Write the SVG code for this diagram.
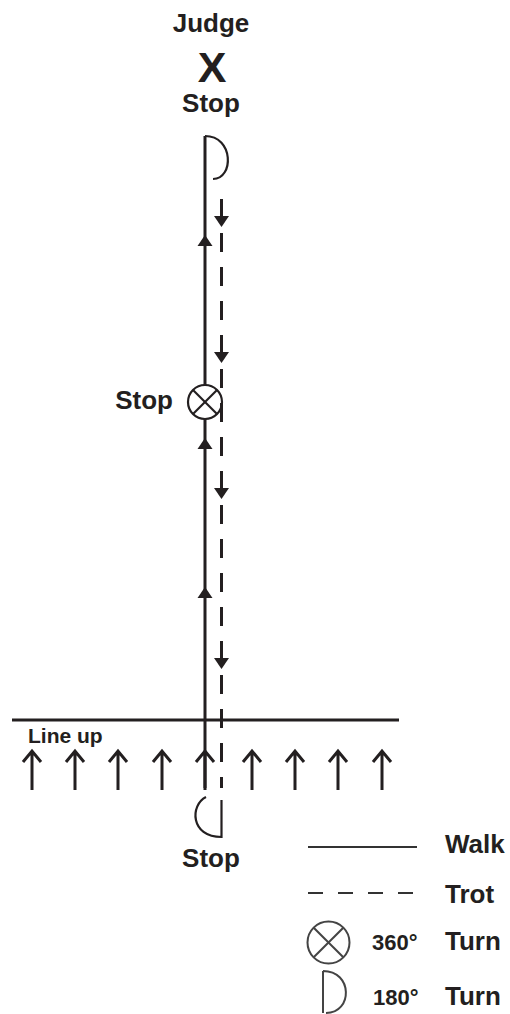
<svg xmlns="http://www.w3.org/2000/svg" width="510" height="1014" viewBox="0 0 510 1014">
<style>
  .t{font-family:"Liberation Sans",Arial,sans-serif;font-weight:bold;fill:#231f20}
  .s{stroke:#231f20;fill:none}
  .main{stroke-width:3}
  .thin{stroke-width:2.2}
  .dash{stroke-width:3;stroke-dasharray:19 15}
  .head{fill:#231f20;stroke:none}
</style>
<rect width="510" height="1014" fill="#fff"/>
<g id="connectors">
  <line class="s main" x1="205" y1="136" x2="205" y2="385"/>
  <line class="s main" x1="205" y1="419" x2="205" y2="788"/>
  <line class="s dash" x1="221.5" y1="199" x2="221.5" y2="788"/>
  <polygon class="head" points="205,235 197.5,246 212.5,246"/>
  <polygon class="head" points="205,438 197.5,449 212.5,449"/>
  <polygon class="head" points="205,587 197.5,598 212.5,598"/>
  <polygon class="head" points="221.5,227 214,216 229,216"/>
  <polygon class="head" points="221.5,363 214,352 229,352"/>
  <polygon class="head" points="221.5,499 214,488 229,488"/>
  <polygon class="head" points="221.5,669 214,658 229,658"/>
</g>
<g id="judge">
  <text class="t" x="211" y="32" font-size="26" text-anchor="middle">Judge</text>
  <text class="t" x="212" y="82" font-size="43" text-anchor="middle">X</text>
  <text class="t" x="211" y="112" font-size="26" text-anchor="middle">Stop</text>
</g>
<g id="top-turn">
  <path class="s thin" d="M205,136 C234,136 234,179 213,179"/>
</g>
<g id="mid-stop">
  <circle class="s thin" cx="205" cy="402" r="17" fill="#fff"/>
  <line class="s thin" x1="193" y1="390" x2="217" y2="414"/>
  <line class="s thin" x1="217" y1="390" x2="193" y2="414"/>
  <text class="t" x="173" y="409" font-size="26" text-anchor="end">Stop</text>
</g>
<g id="lineup">
  <line class="s main" x1="12" y1="720" x2="399" y2="720"/>
  <text class="t" x="28" y="743" font-size="21">Line up</text>
  <g class="s main">
    <path d="M32,790 V751 M23,762 L32,751 L41,762"/>
    <path d="M75,790 V751 M66,762 L75,751 L84,762"/>
    <path d="M118,790 V751 M109,762 L118,751 L127,762"/>
    <path d="M162,790 V751 M153,762 L162,751 L171,762"/>
    <path d="M205,790 V751 M196,762 L205,751 L214,762"/>
    <path d="M252,790 V751 M243,762 L252,751 L261,762"/>
    <path d="M295,790 V751 M286,762 L295,751 L304,762"/>
    <path d="M338,790 V751 M329,762 L338,751 L347,762"/>
    <path d="M382,790 V751 M373,762 L382,751 L391,762"/>
  </g>
</g>
<g id="bottom-turn">
  <path class="s thin" d="M206,797 C190,805 190,837 221.5,837 L221.5,800"/>
  <text class="t" x="211" y="867" font-size="26" text-anchor="middle">Stop</text>
</g>
<g id="legend">
  <line stroke="#333" stroke-width="2" x1="308" y1="847" x2="417" y2="847"/>
  <text class="t" x="445" y="853" font-size="26">Walk</text>
  <line stroke="#333" stroke-width="2" stroke-dasharray="15 15" x1="308" y1="893" x2="417" y2="893"/>
  <text class="t" x="445" y="903" font-size="26">Trot</text>
  <circle cx="328.5" cy="942.5" r="21" fill="none" stroke="#444" stroke-width="2"/>
  <line stroke="#444" stroke-width="2" x1="313.7" y1="927.7" x2="343.3" y2="957.3"/>
  <line stroke="#444" stroke-width="2" x1="343.3" y1="927.7" x2="313.7" y2="957.3"/>
  <text class="t" x="372" y="950" font-size="22">360°</text>
  <text class="t" x="445" y="950" font-size="26">Turn</text>
  <path d="M323,971 V1013 M323,971 C353,971 353,1013 326,1013" fill="none" stroke="#444" stroke-width="2"/>
  <text class="t" x="373" y="1005" font-size="22">180°</text>
  <text class="t" x="445" y="1005" font-size="26">Turn</text>
</g>
</svg>
